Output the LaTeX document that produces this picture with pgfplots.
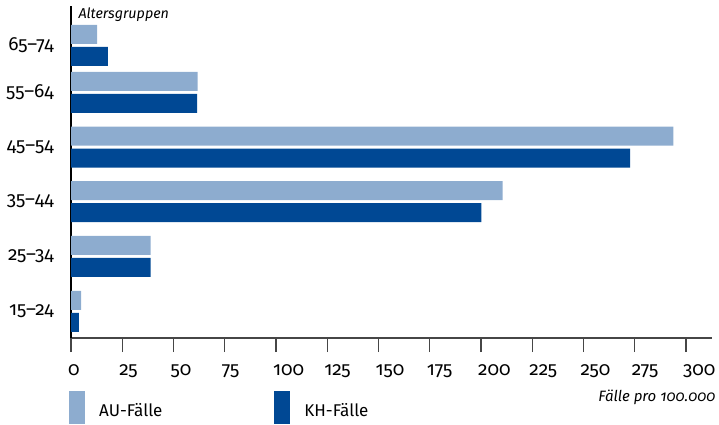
\documentclass[border=0pt]{standalone}
\usepackage{fontspec}
\setmainfont{Fira Sans}[Numbers=OldStyle]
\usepackage{pgfplots}
\usepackage{pgfplotstable}
\pgfplotsset{compat=1.18}

\definecolor{aublue}{RGB}{141,172,207}
\definecolor{khblue}{RGB}{0,72,148}
\definecolor{axisgray}{RGB}{70,70,70}

% Fälle pro 100.000 nach Altersgruppe; pos = Lage der Gruppe auf der y-Achse
\pgfplotstableread{
pos   au    kh
26.7  4.9   3.9
81.6  38.9  38.9
136.5 210.6 200.2
191.0 293.8 272.7
245.7 61.8  61.5
292.7 12.7  18.0
}\faelle

\pgfplotsset{
  legbox/.style={legend image code/.code={\path[##1] (0pt,-7.3pt) rectangle (16pt,25.7pt);}},
}

\begin{document}
\begin{tikzpicture}[x=1pt,y=1pt]
\useasboundingbox (0,0) rectangle (719,424);
\begin{axis}[
  at={(71pt,86pt)}, anchor=south west,
  scale only axis, width=641pt, height=332pt,
  xmin=0, xmax=312.7, ymin=0, ymax=332,
  axis lines=left,
  axis line style={-},
  x axis line style={axisgray, line width=1.5pt},
  y axis line style={black, line width=1.2pt},
  xtick={0,25,...,300},
  ytick={26.7,81.6,136.5,191.0,245.7,292.7},
  yticklabels={15–24,25–34,35–44,45–54,55–64,65–74},
  tick align=outside,
  major tick length=14pt,
  x tick style={axisgray, line width=1.2pt},
  y tick style={draw=none},
  /pgf/number format/assume math mode=true,
  ticklabel style={font=\fontsize{19}{21}\selectfont, inner sep=0pt},
  xticklabel style={anchor=base west, xshift=-3pt, yshift=-23pt},
  yticklabel style={anchor=east, xshift=-3pt},
  legend style={at={(rel axis cs:0,0)}, anchor=north west,
    xshift=-2pt, yshift=-53pt, draw=none, fill=none, inner sep=0pt,
    legend columns=2, font=\fontsize{17}{19}\selectfont,
    nodes={inner sep=0pt, yshift=6.5pt},
    /tikz/every odd column/.append style={column sep=14pt},
    /tikz/every even column/.append style={column sep=112pt}},
]
\addplot[xbar, bar width=19pt, bar shift=11pt, fill=aublue, draw=none, legbox]
  table[x=au, y=pos] {\faelle};
\addplot[xbar, bar width=19pt, bar shift=-11pt, fill=khblue, draw=none, legbox]
  table[x=kh, y=pos] {\faelle};
\legend{AU-Fälle, KH-Fälle}
\end{axis}
\node[anchor=base west, inner sep=0pt, font=\itshape\fontsize{14.3}{16}\selectfont]
  at (78.3,405.7) {Altersgruppen};
\node[anchor=base east, inner sep=0pt, font=\itshape\fontsize{15}{17}\selectfont]
  at (715.7,23) {Fälle pro 100.000};
\end{tikzpicture}
\end{document}
